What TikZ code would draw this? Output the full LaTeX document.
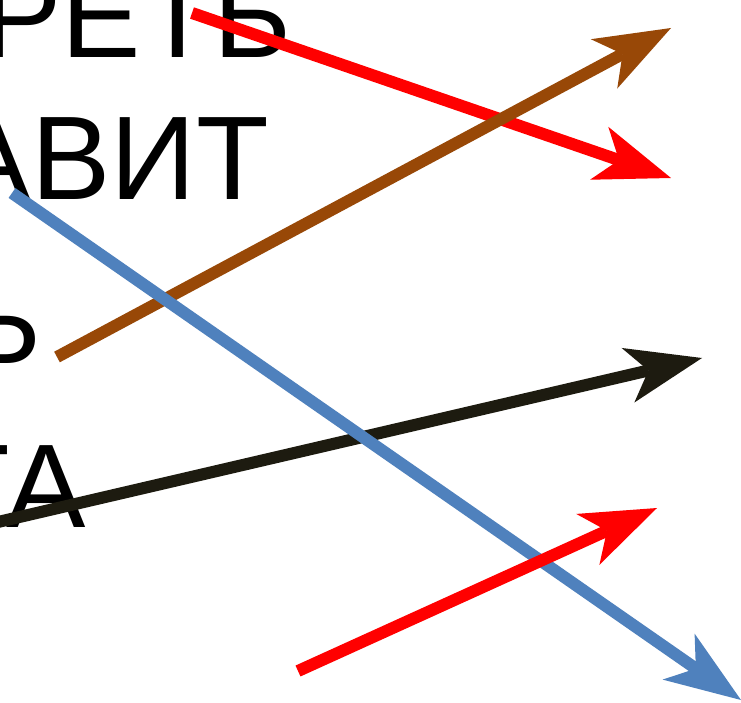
\documentclass[tikz,border=0pt]{standalone}
\usepackage{fontspec}
\setmainfont{Liberation Sans}
\usetikzlibrary{arrows.meta}
\definecolor{cred}{HTML}{FF0000}
\definecolor{cbrown}{HTML}{984807}
\definecolor{cdark}{HTML}{1D1B10}
\definecolor{cblue}{HTML}{4F81BD}
\tikzset{
  word/.style={anchor=base east, inner sep=0pt, font=\fontsize{119}{119}\selectfont, text=black},
  arr/.style={line width=12pt, -{Stealth[length=76pt,width=56pt,inset=21pt,line width=0pt]}}
}
\begin{document}
\begin{tikzpicture}[x=1pt,y=-1pt]
\useasboundingbox (0,0) rectangle (741,703);
\clip (0,0) rectangle (741,703);
\fill[white] (0,0) rectangle (741,703);
% words
\node[word] (w1) at (292,58) {РЕТЬ};
\node[word] (w2) at (269,200) {АВИТ};
\node[word] (w3) at (42,363) {Ь};
\node[word] (w4) at (86,527) {ТА};
% arrow ends
\coordinate (r1s) at (192,13);
\coordinate (r1e) at (671,178);
\coordinate (bs) at (57,357);
\coordinate (be) at (671,28);
\coordinate (ks) at (-2,522);
\coordinate (ke) at (702,358);
\coordinate (r2s) at (298,671);
\coordinate (r2e) at (657,508);
\coordinate (us) at (12,193);
\coordinate (ue) at (741,700);
% arrows
\draw[arr, cred] (r1s) -- (r1e);
\draw[arr, cbrown] (bs) -- (be);
\draw[arr, cdark] (ks) -- (ke);
\draw[arr, cblue] (us) -- (ue);
\draw[arr, cred] (r2s) -- (r2e);
\end{tikzpicture}
\end{document}
